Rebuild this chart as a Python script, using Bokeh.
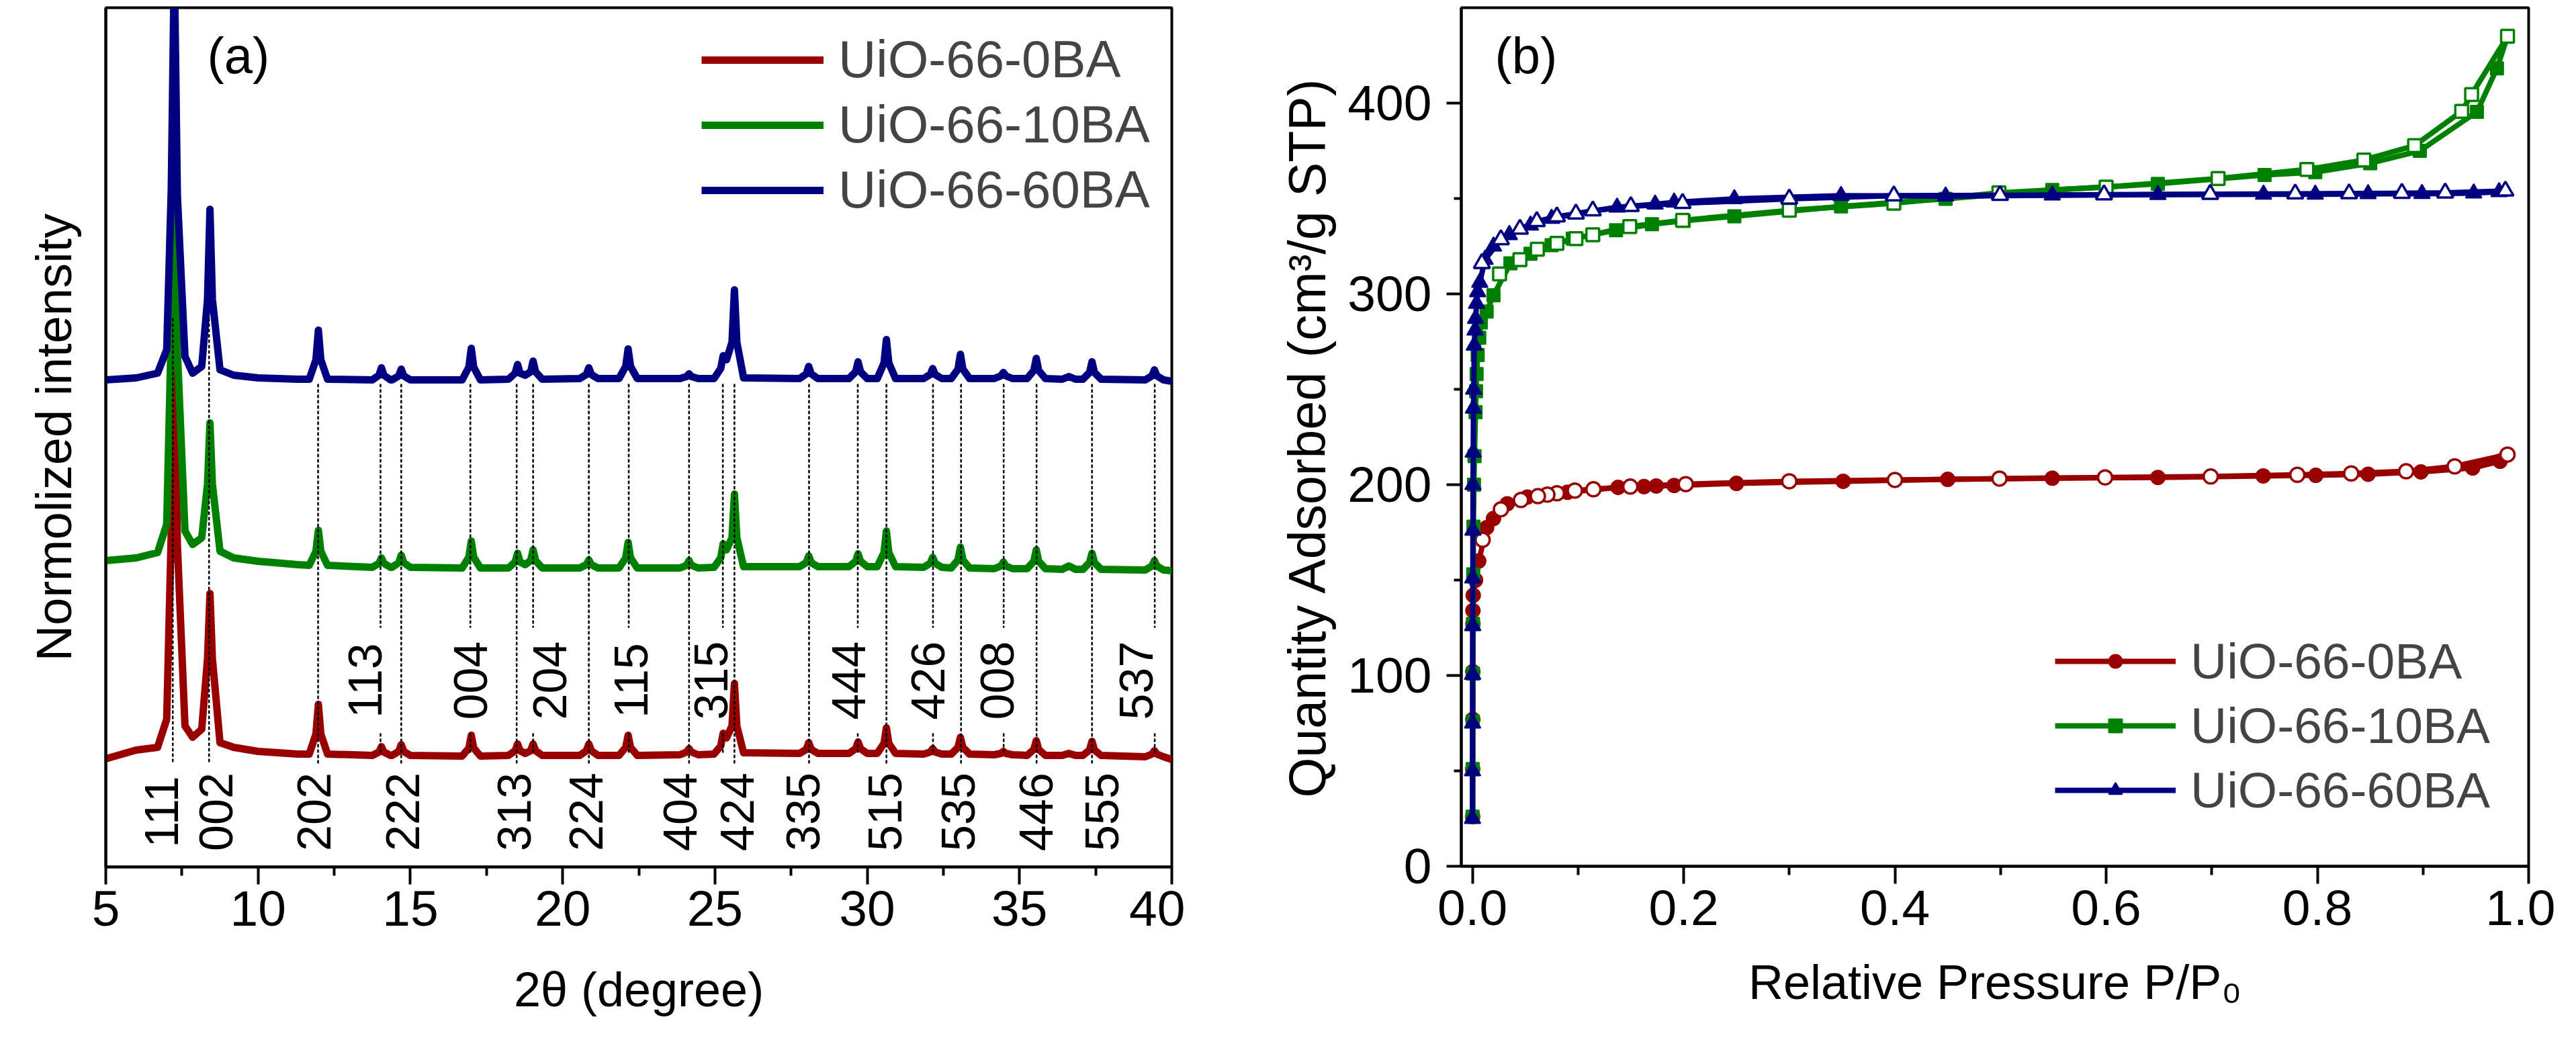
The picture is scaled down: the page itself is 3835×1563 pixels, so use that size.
import math
from bokeh.plotting import figure
from bokeh.models import (Range1d, FixedTicker, Label, Legend, LegendItem,
                          NumeralTickFormatter, Title)
from bokeh.layouts import row
from bokeh.embed import file_html
from bokeh.resources import INLINE
from bokeh.core.properties import value

FONT = "Liberation Sans"
RED, GREEN, BLUE = "#990000", "#008000", "#000080"
names = ["UiO-66-0BA", "UiO-66-10BA", "UiO-66-60BA"]

# ---------------- (a) XRD patterns (normalized, stacked) ----------------
two_theta = [
    5.0, 6.0, 6.7, 7.0, 7.15, 7.25, 7.35, 7.6, 7.85, 8.15, 8.34, 8.42, 8.50, 8.75, 9.2, 10.0, 11.3,
    11.68, 11.90, 11.98, 12.06, 12.28,
    13.75, 13.97, 14.05, 14.13, 14.35,
    14.40, 14.62, 14.70, 14.78, 15.00,
    16.70, 16.92, 17.00, 17.08, 17.30,
    18.22, 18.44, 18.52, 18.60, 18.77, 18.95, 19.03, 19.11, 19.33,
    20.56, 20.78, 20.86, 20.94, 21.16,
    21.85, 22.07, 22.15, 22.23, 22.45,
    23.85, 24.07, 24.15, 24.23, 24.45,
    24.97, 25.19, 25.27, 25.38, 25.56, 25.64, 25.72, 25.94,
    27.78, 28.00, 28.08, 28.16, 28.38,
    29.40, 29.62, 29.70, 29.78, 30.00,
    30.33, 30.55, 30.63, 30.71, 30.93,
    31.85, 32.07, 32.15, 32.23, 32.45,
    32.76, 32.98, 33.06, 33.14, 33.36,
    34.17, 34.39, 34.47, 34.55, 34.77,
    35.25, 35.47, 35.55, 35.63, 35.85,
    36.40, 36.62, 36.84,
    37.08, 37.30, 37.38, 37.46, 37.68,
    39.13, 39.35, 39.43, 39.51, 39.73,
    40.0]

xrd_0BA = [
    1.61, 1.74, 1.78, 2.20, 5.00, 7.79, 4.80, 2.10, 1.93, 2.05, 3.10, 4.07, 3.10, 1.85, 1.78, 1.72, 1.68,
    1.68, 1.98, 2.42, 1.98, 1.68,
    1.66, 1.71, 1.79, 1.71, 1.66,
    1.66, 1.72, 1.82, 1.72, 1.66,
    1.65, 1.77, 1.96, 1.77, 1.65,
    1.66, 1.73, 1.83, 1.73, 1.69, 1.73, 1.83, 1.73, 1.66,
    1.66, 1.73, 1.83, 1.73, 1.66,
    1.66, 1.78, 1.96, 1.78, 1.66,
    1.67, 1.71, 1.76, 1.71, 1.67,
    1.68, 1.80, 1.99, 1.92, 2.10, 2.73, 2.10, 1.70,
    1.69, 1.75, 1.85, 1.75, 1.69,
    1.69, 1.76, 1.86, 1.76, 1.69,
    1.69, 1.84, 2.07, 1.84, 1.69,
    1.68, 1.71, 1.76, 1.71, 1.68,
    1.68, 1.78, 1.93, 1.78, 1.68,
    1.67, 1.69, 1.72, 1.69, 1.67,
    1.66, 1.75, 1.88, 1.75, 1.66,
    1.66, 1.69, 1.66,
    1.66, 1.74, 1.87, 1.74, 1.66,
    1.64, 1.68, 1.73, 1.68, 1.64,
    1.60]

xrd_10BA = [
    4.56, 4.60, 4.68, 5.10, 8.00, 10.76, 7.70, 5.00, 4.80, 4.90, 5.70, 6.61, 5.70, 4.70, 4.60, 4.55, 4.50,
    4.49, 4.70, 5.01, 4.70, 4.49,
    4.46, 4.52, 4.60, 4.52, 4.46,
    4.46, 4.53, 4.64, 4.53, 4.46,
    4.45, 4.61, 4.85, 4.61, 4.45,
    4.45, 4.54, 4.67, 4.54, 4.50, 4.56, 4.72, 4.56, 4.45,
    4.45, 4.50, 4.57, 4.50, 4.45,
    4.45, 4.60, 4.83, 4.60, 4.45,
    4.45, 4.49, 4.56, 4.49, 4.45,
    4.46, 4.60, 4.81, 4.72, 4.90, 5.55, 4.90, 4.47,
    4.47, 4.53, 4.63, 4.53, 4.47,
    4.47, 4.55, 4.66, 4.55, 4.47,
    4.47, 4.68, 5.00, 4.68, 4.47,
    4.46, 4.52, 4.61, 4.52, 4.46,
    4.45, 4.57, 4.76, 4.57, 4.45,
    4.44, 4.48, 4.54, 4.48, 4.44,
    4.44, 4.55, 4.72, 4.55, 4.44,
    4.43, 4.48, 4.43,
    4.43, 4.53, 4.67, 4.53, 4.43,
    4.42, 4.48, 4.56, 4.48, 4.42,
    4.41]

xrd_60BA = [
    7.25, 7.28, 7.35, 7.70, 10.10, 13.50, 10.00, 7.60, 7.35, 7.45, 8.45, 9.79, 8.45, 7.40, 7.32, 7.28, 7.26,
    7.26, 7.55, 7.99, 7.55, 7.26,
    7.25, 7.32, 7.43, 7.32, 7.25,
    7.25, 7.31, 7.41, 7.31, 7.25,
    7.25, 7.44, 7.72, 7.44, 7.25,
    7.26, 7.35, 7.48, 7.35, 7.32, 7.37, 7.53, 7.37, 7.26,
    7.27, 7.33, 7.43, 7.33, 7.27,
    7.27, 7.45, 7.71, 7.45, 7.27,
    7.27, 7.30, 7.34, 7.30, 7.27,
    7.27, 7.42, 7.61, 7.55, 7.81, 8.59, 7.81, 7.28,
    7.27, 7.34, 7.45, 7.34, 7.27,
    7.27, 7.37, 7.52, 7.37, 7.27,
    7.27, 7.50, 7.85, 7.50, 7.27,
    7.27, 7.33, 7.42, 7.33, 7.27,
    7.27, 7.41, 7.63, 7.41, 7.27,
    7.27, 7.31, 7.36, 7.31, 7.27,
    7.27, 7.39, 7.57, 7.39, 7.27,
    7.26, 7.30, 7.26,
    7.26, 7.36, 7.52, 7.36, 7.26,
    7.25, 7.31, 7.40, 7.31, 7.25,
    7.23]

hkl = ["111", "002", "202", "113", "222", "004", "313", "204", "224", "115", "404",
       "315", "424", "335", "444", "515", "426", "535", "008", "446", "555", "537"]
hkl_two_theta = [7.20, 8.39, 11.97, 14.02, 14.70, 16.97, 18.49, 19.03, 20.86, 22.17, 24.15,
                 25.26, 25.64, 28.09, 29.69, 30.63, 32.16, 33.08, 34.48, 35.56, 37.38, 39.44]
hkl_label_x = [6.83, 8.61, 11.84, 13.52, 14.75, 16.98, 18.40, 19.58, 20.77, 22.25, 23.86,
               24.88, 25.73, 27.89, 29.40, 30.58, 32.00, 32.99, 34.27, 35.55, 37.70, 38.83]
hkl_side = ["low", "low", "low", "up", "low", "up", "low", "up", "low", "up", "low",
            "up", "low", "low", "up", "low", "up", "low", "up", "low", "low", "up"]

xrd_ticks = [5, 10, 15, 20, 25, 30, 35, 40]
xrd_minor = [7.5, 12.5, 17.5, 22.5, 27.5, 32.5, 37.5]

# ---------------- (b) N2 isotherms ----------------
p_0BA_ads = [0.0003, 0.0003, 0.0004, 0.0004, 0.0005, 0.0005, 0.0008, 0.003, 0.006, 0.0135, 0.020,
             0.033, 0.052, 0.090, 0.138, 0.1625, 0.174, 0.191, 0.25, 0.351, 0.45, 0.549, 0.649,
             0.7487, 0.7985, 0.848, 0.898, 0.947, 0.973, 0.98]
q_0BA_ads = [26, 51, 77, 102, 127, 134, 142, 150, 160, 177.5, 182.3,
             190, 193.5, 196, 198.6, 199, 199.3, 199.6, 200.7, 201.8, 202.8, 203.4, 203.8,
             204.6, 204.9, 205.5, 206.7, 208.8, 212.3, 215.8]
p_0BA_des = [0.98, 0.930, 0.884, 0.832, 0.781, 0.699, 0.599, 0.499, 0.40, 0.30, 0.202, 0.1495,
             0.1146, 0.097, 0.080, 0.071, 0.062, 0.046, 0.027, 0.0097]
q_0BA_des = [215.8, 209.6, 207.0, 205.9, 205.2, 204.3, 203.8, 203.2, 202.5, 201.8, 200.3, 199.0,
             197.6, 196.9, 195.5, 194.8, 194.0, 192.0, 187.1, 171.1]

p_10BA_ads = [0.0002, 0.0003, 0.0004, 0.0005, 0.0006, 0.0008, 0.001, 0.0015, 0.002, 0.003, 0.0035,
              0.004, 0.005, 0.0065, 0.008, 0.0135, 0.020, 0.036, 0.055, 0.075, 0.095, 0.136, 0.17,
              0.2, 0.248, 0.349, 0.448, 0.549, 0.649, 0.75, 0.798, 0.85, 0.897, 0.951, 0.97, 0.98]
q_10BA_ads = [26, 51, 76, 101, 127, 153, 178, 200, 215, 238, 249,
              258, 268, 277, 285, 290.8, 299.3, 316, 321, 325.5, 329, 333.4, 336.5,
              338.3, 340.7, 345.9, 349.8, 354.5, 357.7, 362.3, 363.8, 368.5, 375, 395.4, 418.2, 435]
p_10BA_des = [0.98, 0.946, 0.9366, 0.892, 0.844, 0.79, 0.706, 0.60, 0.4985, 0.399, 0.30, 0.199,
              0.149, 0.114, 0.098, 0.08, 0.0615, 0.045, 0.0257]
q_10BA_des = [435, 404.5, 395.7, 377.7, 370.2, 365.2, 360.5, 356, 353, 347.5, 343.8, 338.6,
              335.3, 331, 329, 326.5, 323.4, 318, 310.5]

p_60BA_ads = [0.0001, 0.0001, 0.0002, 0.0002, 0.0003, 0.0004, 0.0005, 0.0006, 0.0008, 0.001, 0.0012,
              0.0018, 0.0025, 0.003, 0.004, 0.005, 0.007, 0.012, 0.02, 0.035, 0.055, 0.075, 0.098,
              0.137, 0.173, 0.191, 0.248, 0.349, 0.448, 0.549, 0.649, 0.749, 0.798, 0.848, 0.899,
              0.948, 0.972, 0.978]
q_60BA_ads = [25, 50, 75, 100.5, 126, 151, 176, 200, 217, 240, 250,
              273, 281, 287, 295, 301, 306, 318, 325, 331, 336, 339.5, 342,
              345.4, 347, 348, 349.8, 351.5, 351.2, 351.7, 352, 352.2, 352.2, 352.4, 352.5,
              352.8, 353.5, 354]
p_60BA_des = [0.978, 0.921, 0.88, 0.83, 0.779, 0.6985, 0.598, 0.4995, 0.399, 0.30, 0.199, 0.15,
              0.114, 0.098, 0.08, 0.061, 0.045, 0.027, 0.009]
q_60BA_des = [354, 353, 352.8, 352.6, 352.5, 352.3, 352, 351.7, 351.5, 349.8, 347.5, 345.9,
              343.6, 342, 340.5, 338, 334, 328.5, 316]

iso_xticks = [0.0, 0.2, 0.4, 0.6, 0.8, 1.0]
iso_xminor = [0.1, 0.3, 0.5, 0.7, 0.9]
iso_yticks = [0, 100, 200, 300, 400]
iso_yminor = [50, 150, 250, 350]


def style_axes(p, tick_font):
    for ax in (p.xaxis[0], p.yaxis[0]):
        ax.axis_line_width = 4
        ax.axis_line_color = "black"
        ax.major_tick_line_width = 4
        ax.minor_tick_line_width = 4
        ax.major_tick_in = 0
        ax.minor_tick_in = 0
        ax.major_label_text_font = FONT
        ax.major_label_text_font_size = tick_font
        ax.major_label_text_color = "black"
        ax.axis_label_text_font = FONT
        ax.axis_label_text_font_style = "normal"
        ax.axis_label_text_color = "black"
    p.xgrid.visible = False
    p.ygrid.visible = False
    p.outline_line_color = "black"
    p.outline_line_width = 4
    p.outline_line_alpha = 1.0


# ---------------- figure (a) ----------------
pa = figure(frame_width=1587, frame_height=1279, output_backend="svg", toolbar_location=None,
            x_range=Range1d(5, 40), y_range=Range1d(0, 12.79),
            min_border_left=157, min_border_right=20, min_border_top=10, min_border_bottom=262)
style_axes(pa, "75px")
pa.xaxis.ticker = FixedTicker(ticks=xrd_ticks, minor_ticks=xrd_minor)
pa.xaxis.major_tick_out = 26
pa.xaxis.minor_tick_out = 13
pa.xaxis.major_label_standoff = 10
pa.xaxis.axis_label = "2θ (degree)"
pa.xaxis.axis_label_text_font_size = "72px"
pa.xaxis.axis_label_standoff = 52
pa.yaxis.ticker = FixedTicker(ticks=[], minor_ticks=[])
pa.yaxis.major_tick_out = 0
pa.yaxis.minor_tick_out = 0
pa.yaxis.major_label_standoff = 0
pa.yaxis.major_tick_line_color = None
pa.yaxis.minor_tick_line_color = None
pa.yaxis.major_label_text_font_size = "0px"
pa.add_layout(Title(text="Normolized intensity", align="center", offset=37, standoff=72,
                    text_font=FONT, text_font_size="74px", text_font_style="normal",
                    text_color="black"), "left")

r0 = pa.line(two_theta, xrd_0BA, line_color=RED, line_width=11, line_join="round")
r1 = pa.line(two_theta, xrd_10BA, line_color=GREEN, line_width=11, line_join="round")
r2 = pa.line(two_theta, xrd_60BA, line_color=BLUE, line_width=11, line_join="round")

# dotted reflection guides with gaps for the upper labels
x0s, y0s, x1s, y1s = [], [], [], []
for name, xx, side in zip(hkl, hkl_two_theta, hkl_side):
    top = 8.17 if name in ("111", "002") else 7.19
    if side == "low":
        x0s.append(xx); y0s.append(top); x1s.append(xx); y1s.append(1.53)
    else:
        x0s.append(xx); y0s.append(top); x1s.append(xx); y1s.append(3.56)
        x0s.append(xx); y0s.append(1.99); x1s.append(xx); y1s.append(1.67)
pa.segment(x0s, y0s, x1s, y1s, line_color="black", line_width=2.5, line_dash="5 3")

label_y = [0.82 if s == "low" else 2.775 for s in hkl_side]
pa.text(hkl_label_x, label_y, text=hkl, angle=math.pi / 2, text_align="center",
        text_baseline="middle", text_font=value(FONT), text_font_size="70px", text_color="black")

pa.add_layout(Label(x=8.33, y=12.08, text="(a)", text_font=FONT, text_font_size="76px",
                    text_baseline="middle", text_align="left", text_color="black"))

leg_a = Legend(items=[LegendItem(label=names[0], renderers=[r0]),
                      LegendItem(label=names[1], renderers=[r1]),
                      LegendItem(label=names[2], renderers=[r2])],
               location=(887, 962), glyph_width=182, glyph_height=90, label_height=90,
               spacing=6, padding=0, margin=0, label_standoff=22,
               label_text_font=FONT, label_text_font_size="78px",
               border_line_color=None, background_fill_alpha=0)
pa.add_layout(leg_a)

# ---------------- figure (b) ----------------
pb = figure(frame_width=1589, frame_height=1278, output_backend="svg", toolbar_location=None,
            x_range=Range1d(-0.0105, 1.0), y_range=Range1d(0, 450),
            min_border_left=411, min_border_right=40, min_border_top=11, min_border_bottom=262)
style_axes(pb, "75px")
pb.xaxis.ticker = FixedTicker(ticks=iso_xticks, minor_ticks=iso_xminor)
pb.xaxis.formatter = NumeralTickFormatter(format="0.0")
pb.xaxis.major_tick_out = 26
pb.xaxis.minor_tick_out = 13
pb.xaxis.major_label_standoff = 10
pb.xaxis.axis_label = "Relative Pressure P/P₀"
pb.xaxis.axis_label_text_font_size = "72px"
pb.xaxis.axis_label_standoff = 42
pb.yaxis.ticker = FixedTicker(ticks=iso_yticks, minor_ticks=iso_yminor)
pb.yaxis.major_tick_out = 22
pb.yaxis.minor_tick_out = 11
pb.yaxis.major_label_standoff = 22
pb.yaxis.axis_label = "Quantity Adsorbed (cm³/g STP)"
pb.yaxis.axis_label_text_font_size = "77px"
pb.yaxis.axis_label_standoff = 14

series = [
    (p_0BA_ads, q_0BA_ads, p_0BA_des, q_0BA_des, RED, "circle", 21),
    (p_10BA_ads, q_10BA_ads, p_10BA_des, q_10BA_des, GREEN, "square", 19),
    (p_60BA_ads, q_60BA_ads, p_60BA_des, q_60BA_des, BLUE, "triangle", 24),
]
items_b = []
for (pa_, qa_, pd_, qd_, col, mk, sz), nm in zip(series, names):
    la = pb.line(pa_, qa_, line_color=col, line_width=8, line_join="round")
    pb.line(pd_, qd_, line_color=col, line_width=8, line_join="round")
    sa = pb.scatter(pa_, qa_, marker=mk, size=sz, fill_color=col, line_color=col, line_width=2)
    pb.scatter(pd_, qd_, marker=mk, size=sz, fill_color="white", line_color=col, line_width=3.5)
    items_b.append(LegendItem(label=nm, renderers=[la, sa]))

pb.add_layout(Label(x=0.0213, y=425, text="(b)", text_font=FONT, text_font_size="76px",
                    text_baseline="middle", text_align="left", text_color="black"))

leg_b = Legend(items=items_b, location=(884, 68), glyph_width=180, glyph_height=50,
               label_height=90, spacing=6, padding=0, margin=0, label_standoff=22,
               label_text_font=FONT, label_text_font_size="75px",
               border_line_color=None, background_fill_alpha=0)
pb.add_layout(leg_b)

layout = row(pa, pb)
open("out.html", "w").write(file_html(layout, INLINE))
